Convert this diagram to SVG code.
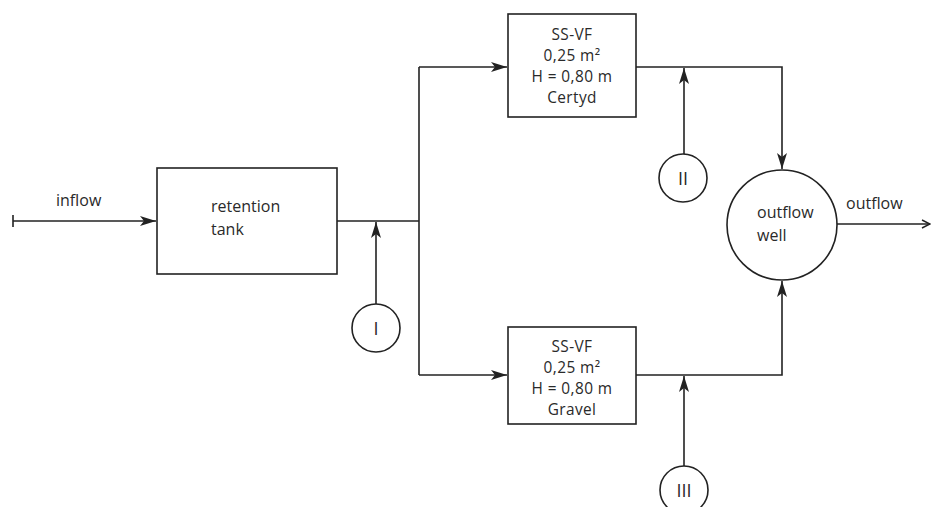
<svg xmlns="http://www.w3.org/2000/svg" width="931" height="507" viewBox="0 0 931 507">
<style>
.ln{fill:none;stroke:#222;stroke-width:1.6}
.bx{fill:#fff;stroke:#222;stroke-width:1.6}
.t{font-family:"Open Sans","Liberation Sans",sans-serif;font-size:16px;fill:#2a2a2a}
.b{font-size:15.4px;letter-spacing:0.4px}
.n{font-size:18px}
.c{text-anchor:middle}
</style>
<defs>
<marker id="ah" viewBox="0 0 16 10" refX="16" refY="5" markerWidth="16" markerHeight="10" markerUnits="userSpaceOnUse" orient="auto">
<path d="M0,0 L16,5 L0,10 L4,5 Z" fill="#222"/>
</marker>
<marker id="oa" viewBox="0 0 10 10" refX="9" refY="5" markerWidth="10" markerHeight="10" markerUnits="userSpaceOnUse" orient="auto">
<path d="M1,1 L9,5 L1,9" fill="none" stroke="#222" stroke-width="1.5"/>
</marker>
</defs>
<g id="connectors">
<path class="ln" d="M13,215 V227"/>
<path class="ln" d="M13,221 H156" marker-end="url(#ah)"/>
<path class="ln" d="M337,221 H419"/>
<path class="ln" d="M419,67 V375"/>
<path class="ln" d="M419,67 H507" marker-end="url(#ah)"/>
<path class="ln" d="M419,375 H507" marker-end="url(#ah)"/>
<path class="ln" d="M376,304 V222" marker-end="url(#ah)"/>
<path class="ln" d="M636,67 H782 V169" marker-end="url(#ah)"/>
<path class="ln" d="M636,375 H782 V281" marker-end="url(#ah)"/>
<path class="ln" d="M684,154 V68" marker-end="url(#ah)"/>
<path class="ln" d="M684,466 V376" marker-end="url(#ah)"/>
<path class="ln" d="M837,224 H930" marker-end="url(#oa)"/>
</g>
<g id="inflow-label"><text class="t" x="56" y="206">inflow</text></g>
<g id="outflow-label"><text class="t" x="846" y="209">outflow</text></g>
<g id="retention-tank">
<rect class="bx" x="157" y="168" width="180" height="106"/>
<text class="t" x="211" y="212">retention</text>
<text class="t" x="211" y="235">tank</text>
</g>
<g id="ssvf-certyd">
<rect class="bx" x="508" y="14" width="128" height="103"/>
<text class="t b c" x="572" y="40">SS-VF</text>
<text class="t b c" x="572" y="61">0,25 m²</text>
<text class="t b c" x="572" y="82">H = 0,80 m</text>
<text class="t b c" x="572" y="103">Certyd</text>
</g>
<g id="ssvf-gravel">
<rect class="bx" x="508" y="327" width="128" height="97"/>
<text class="t b c" x="572" y="352">SS-VF</text>
<text class="t b c" x="572" y="373">0,25 m²</text>
<text class="t b c" x="572" y="394">H = 0,80 m</text>
<text class="t b c" x="572" y="415">Gravel</text>
</g>
<g id="outflow-well">
<circle class="bx" cx="782" cy="225" r="55"/>
<text class="t" x="757" y="218">outflow</text>
<text class="t" x="757" y="241">well</text>
</g>
<g id="point-I">
<circle class="bx" cx="376" cy="328" r="24"/>
<text class="t n c" x="376" y="335">I</text>
</g>
<g id="point-II">
<circle class="bx" cx="683" cy="178" r="24"/>
<text class="t n c" x="683" y="185">II</text>
</g>
<g id="point-III">
<circle class="bx" cx="684" cy="490" r="24"/>
<text class="t n c" x="684" y="497">III</text>
</g>
</svg>
